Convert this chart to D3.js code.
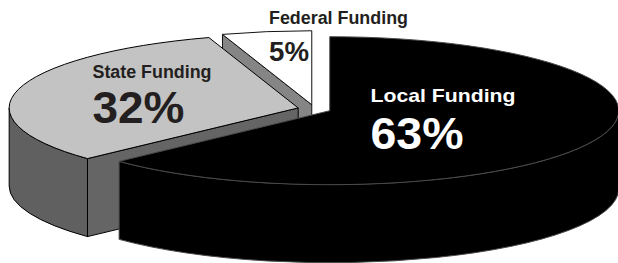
<!DOCTYPE html>
<html><head><meta charset="utf-8">
<script src="https://cdn.jsdelivr.net/npm/d3@7"></script>
<style>html,body{margin:0;padding:0;background:#fff;overflow:hidden}</style>
</head><body>
<svg id="chart" width="618" height="263"></svg>
<script>
// ---- data ----
const categories = ["Local Funding", "State Funding", "Federal Funding"];
const values = [63, 32, 5];
const percentLabels = ["63%", "32%", "5%"];

// ---- style / layout ----
const cx = 314.4, cy = 109, rx = 289, ry = 74, depth = 78, explode = 0.058;
const topFill  = {"Local Funding": "#000000", "State Funding": "#c3c3c3", "Federal Funding": "#ffffff"};
const sideFill = {"Local Funding": "#000000", "State Funding": "#606060", "Federal Funding": "#6a6a6a"};
const faceFill = {"Local Funding": "#000000", "State Funding": "#656565", "Federal Funding": "#858585"};
const strokeCol = {"Local Funding": "#4a4a4a", "State Funding": "#000000", "Federal Funding": "#111111"};
const textCol = {"Local Funding": "#ffffff", "State Funding": "#231f20", "Federal Funding": "#231f20"};
const labelPos = {
  "Local Funding":   {x: 370.5, nameY: 102, nameSize: 19, nameLen: 145, pctY: 149, pctSize: 45, pctLen: 93},
  "State Funding":   {x: 92.5,  nameY: 78,  nameSize: 17.5, nameLen: 119, pctY: 123, pctSize: 44, pctLen: 92},
  "Federal Funding": {x: 269,   nameY: 24,  nameSize: 17.5, nameLen: 139, pctY: 61,  pctSize: 27, pctLen: 40}
};

const svg = d3.select("#chart");
const pie = d3.pie().sort(null).value(d => d.v).startAngle(0).endAngle(2 * Math.PI);
const arcs = pie(categories.map((c, i) => ({c, v: values[i], label: percentLabels[i]})));

arcs.forEach(a => {
  const mid = (a.startAngle + a.endAngle) / 2;
  a.ax = cx + explode * rx * Math.sin(mid);
  a.ay = cy - explode * ry * Math.cos(mid);
  a.depthKey = -Math.cos(mid);
});
const pt = (a, ang, dz = 0) => [a.ax + rx * Math.sin(ang), a.ay - ry * Math.cos(ang) + dz];
const P = p => p[0].toFixed(2) + "," + p[1].toFixed(2);

const order = arcs.slice().sort((p, q) => p.depthKey - q.depthKey);

order.forEach(a => {
  const g = svg.append("g");
  const c = a.data.c;
  const a0 = a.startAngle, a1 = a.endAngle;
  const apex = [a.ax, a.ay];
  // radial faces
  const faces = [];
  if (Math.sin(a0) < -1e-6) faces.push(a0);
  if (Math.sin(a1) > 1e-6) faces.push(a1);
  faces.forEach(ang => {
    const p = pt(a, ang);
    g.append("path")
      .attr("d", `M${P(apex)}L${P(p)}L${P([p[0], p[1] + depth])}L${P([apex[0], apex[1] + depth])}Z`)
      .attr("fill", faceFill[c]).attr("stroke", strokeCol[c]).attr("stroke-width", 1)
      .attr("stroke-linejoin", "round");
  });
  // outer side (front half only)
  const s = Math.max(a0, Math.PI / 2), e = Math.min(a1, 3 * Math.PI / 2);
  if (s < e) {
    g.append("path")
      .attr("d", `M${P(pt(a, s))}A${rx},${ry} 0 0 1 ${P(pt(a, e))}L${P(pt(a, e, depth))}A${rx},${ry} 0 0 0 ${P(pt(a, s, depth))}Z`)
      .attr("fill", sideFill[c]).attr("stroke", strokeCol[c]).attr("stroke-width", 1)
      .attr("stroke-linejoin", "round");
  }
  // top face
  const large = (a1 - a0) > Math.PI ? 1 : 0;
  g.append("path")
    .attr("d", `M${P(apex)}L${P(pt(a, a0))}A${rx},${ry} 0 ${large} 1 ${P(pt(a, a1))}Z`)
    .attr("fill", topFill[c]).attr("stroke", strokeCol[c]).attr("stroke-width", 1)
    .attr("stroke-linejoin", "round");
});

// labels
arcs.forEach(a => {
  const c = a.data.c, lp = labelPos[c];
  svg.append("text").text(c)
    .attr("x", lp.x).attr("y", lp.nameY)
    .attr("font-family", "'Liberation Sans', Arial, sans-serif")
    .attr("font-weight", "bold").attr("font-size", lp.nameSize)
    .attr("textLength", lp.nameLen).attr("lengthAdjust", "spacingAndGlyphs")
    .attr("fill", textCol[c]);
  svg.append("text").text(a.data.label)
    .attr("x", lp.x).attr("y", lp.pctY)
    .attr("font-family", "'Liberation Sans', Arial, sans-serif")
    .attr("font-weight", "bold").attr("font-size", lp.pctSize)
    .attr("textLength", lp.pctLen).attr("lengthAdjust", "spacingAndGlyphs")
    .attr("fill", textCol[c]);
});
</script>
</body></html>
